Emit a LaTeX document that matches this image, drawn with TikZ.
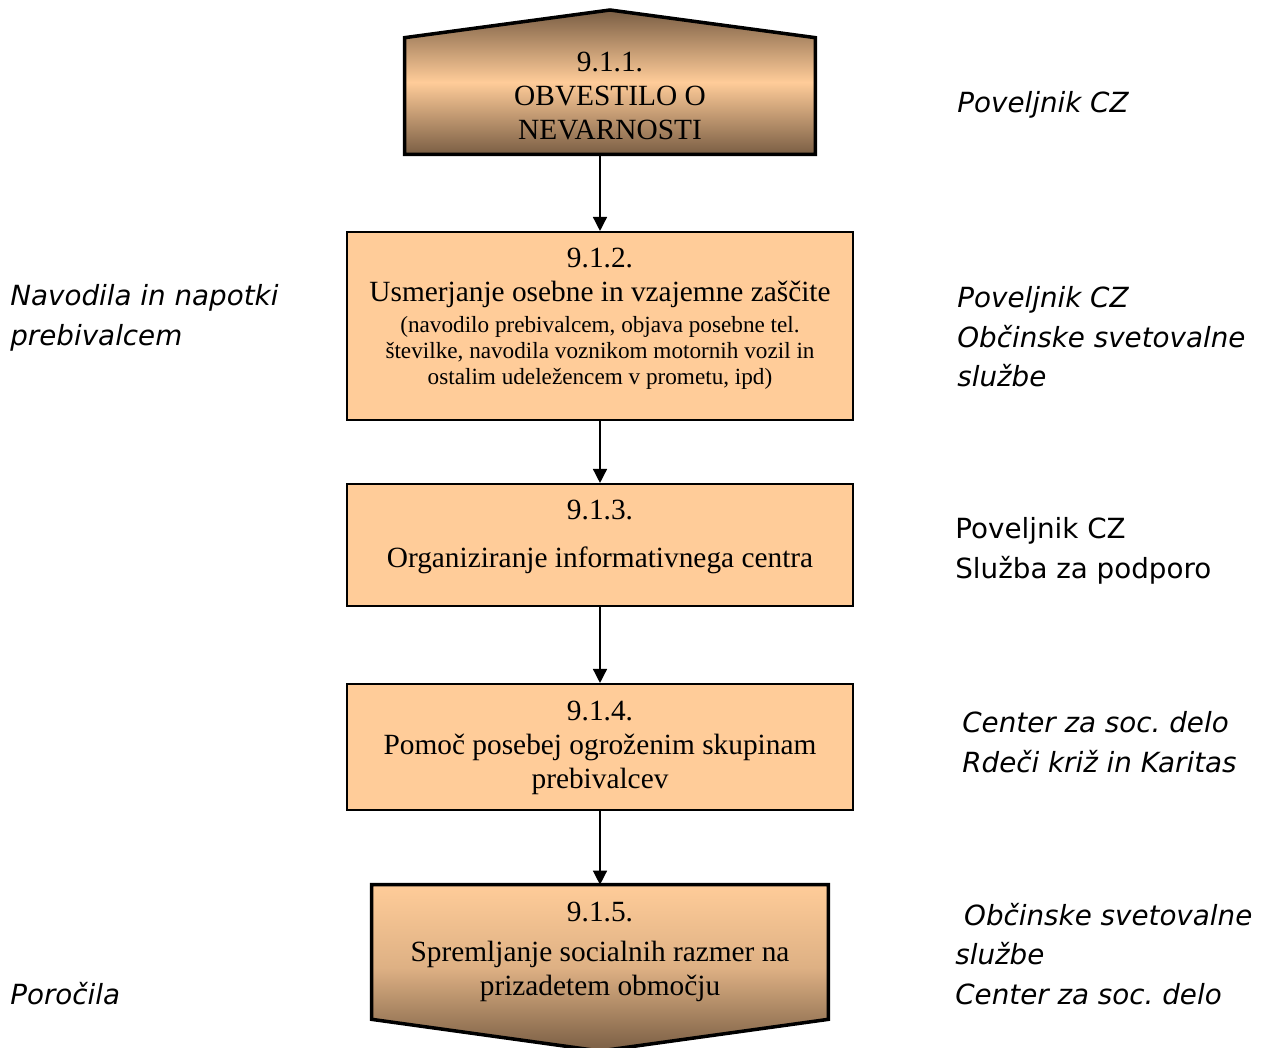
\documentclass[tikz,border=0pt]{standalone}
\usepackage{fontspec}
\setmainfont{Liberation Serif}
\newfontfamily\sidefont{DejaVu Sans}
\usepackage{tikz}
\usetikzlibrary{arrows.meta}
\definecolor{peach}{RGB}{255,204,153}
\definecolor{umber}{RGB}{122,94,68}
\tikzset{bx/.style={draw, line width=1.2pt, fill=peach, minimum width=10.12cm, inner sep=0pt}}
\tikzset{tx/.style={align=center, font=\fontsize{16.7}{19.5}\selectfont}}
\tikzset{sl/.style={anchor=west, align=left, inner sep=0pt, font=\sidefont\itshape\fontsize{15.8}{22.5}\selectfont}}
\tikzset{su/.style={anchor=west, align=left, inner sep=0pt, font=\sidefont\fontsize{15.8}{22.5}\selectfont}}
\tikzset{pent/.style={draw, line width=2pt}}
\newcommand{\sm}{\fontsize{13.2}{14.8}\selectfont}
\frenchspacing

\begin{document}
\begin{tikzpicture}[x=0.02cm, y=-0.02cm, >={Triangle[width=8pt,length=8pt]}]
  \useasboundingbox (0,0) rectangle (1261,1048);
  % first and last steps
  \node (top) at (610,96) [minimum width=8.2cm, minimum height=2.32cm] {};
  \coordinate (topapex) at (610,10);
  \draw[pent, top color=umber, bottom color=umber, middle color=peach]
    (top.south west) -- (top.north west) -- (topapex) -- (top.north east) -- (top.south east) -- cycle;
  \node (bot) at (600,952) [minimum width=9.12cm, minimum height=2.68cm] {};
  \coordinate (botapex) at (600,1051);
  \draw[pent, top color=peach, bottom color=umber, middle color=peach!75!umber]
    (bot.north west) -- (bot.north east) -- (bot.south east) -- (botapex) -- (bot.south west) -- cycle;
  % middle steps
  \node[bx, minimum height=3.76cm] (b2) at (600,326) {};
  \node[bx, minimum height=2.44cm] (b3) at (600,545) {};
  \node[bx, minimum height=2.52cm] (b4) at (600,747) {};
  % texts
  \node[tx] (t1) at (610,96) {9.1.1.\\OBVESTILO O\\NEVARNOSTI};
  \node[tx] (t2) at (600,319) {9.1.2.\\Usmerjanje osebne in vzajemne zaščite\\[-1.9pt]\sm (navodilo prebivalcem, objava posebne tel.\\[-4.7pt]\sm številke, navodila voznikom motornih vozil in\\[-4.7pt]\sm ostalim udeležencem v prometu, ipd)};
  \node[tx] (t3) at (600,537) {9.1.3.\\[8pt]Organiziranje informativnega centra};
  \node[tx] (t4) at (600,748) {9.1.4.\\Pomoč posebej ogroženim skupinam\\prebivalcev};
  \node[tx] (t5) at (600,952) {9.1.5.\\[3pt]Spremljanje socialnih razmer na\\prizadetem območju};
  % who does it
  \node[sl] (r1) at (957,105) {Poveljnik CZ};
  \node[sl] (l2) at (10,318) {Navodila in napotki\\prebivalcem};
  \node[sl] (r2) at (957,337) {Poveljnik CZ\\Občinske svetovalne\\službe};
  \node[su] (r3) at (955,551) {Poveljnik CZ\\Služba za podporo};
  \node[sl] (r4) at (962,742) {Center za soc. delo\\Rdeči križ in Karitas};
  \node[sl] (r5) at (955,954) {\ Občinske svetovalne\\službe\\Center za soc. delo};
  \node[sl] (l5) at (10,994) {Poročila};
  % flow
  \draw[->, line width=0.8pt] (b2.north |- top.south) -- (b2.north);
  \draw[->, line width=0.8pt] (b2) -- (b3);
  \draw[->, line width=0.8pt] (b3) -- (b4);
  \draw[->, line width=0.8pt] (b4) -- (bot);
\end{tikzpicture}
\end{document}
